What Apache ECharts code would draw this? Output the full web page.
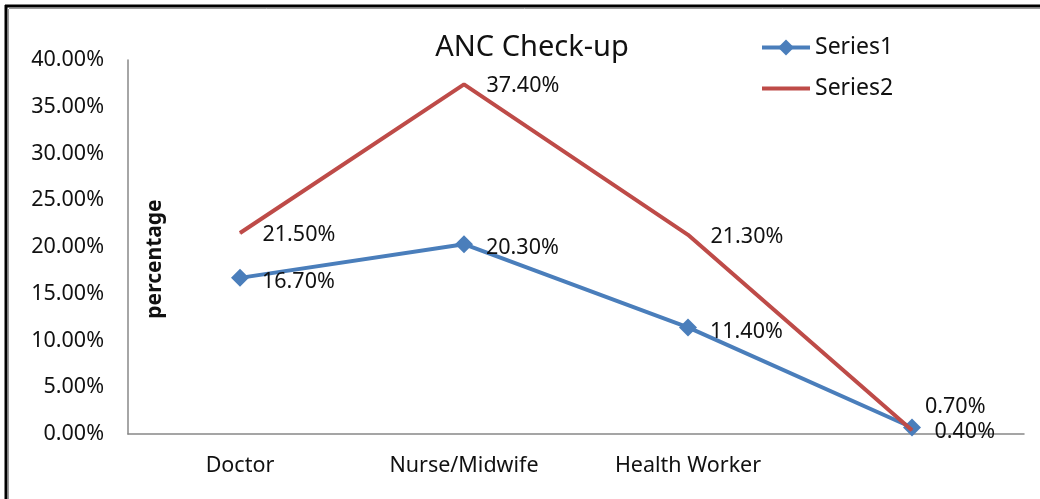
<!DOCTYPE html>
<html>
<head>
<meta charset="utf-8">
<script src="https://cdn.jsdelivr.net/npm/echarts@6/dist/echarts.min.js"></script>
<style>html,body{margin:0;padding:0;background:#fff}#c{width:1040px;height:499px}</style>
</head>
<body>
<div id="c"></div>
<script>
const categories = ['Doctor', 'Nurse/Midwife', 'Health Worker', ''];
const series1 = [16.7, 20.3, 11.4, 0.7];
const series2 = [21.5, 37.4, 21.3, 0.4];
const yTicks = [0, 5, 10, 15, 20, 25, 30, 35, 40];
const titleText = 'ANC Check-up';
const yName = 'percentage';

const font = '"Noto Sans", sans-serif';
const chart = echarts.init(document.getElementById('c'));
chart.setOption({
  animation: false,
  backgroundColor: '#fff',
  title: {
    text: titleText, left: 527, top: 28, textAlign: 'center',
    textStyle: {fontFamily: font, fontSize: 29, fontWeight: 'normal', color: '#111'}
  },
  legend: {
    orient: 'vertical', left: 755, top: 31, itemGap: 18, itemWidth: 48, itemHeight: 20,
    textStyle: {fontFamily: font, fontSize: 23, color: '#111'},
    data: [
      {name: 'Series1', lineStyle: {width: 4}},
      {name: 'Series2', icon: 'path://M0,0 L48,0 L48,4 L0,4 Z', itemStyle: {color: '#be4b48'}}
    ]
  },
  graphic: [
    {type: 'line', shape: {x1: 5, y1: 6, x2: 1040, y2: 6}, style: {stroke: '#000', lineWidth: 3}},
    {type: 'line', shape: {x1: 6, y1: 5, x2: 6, y2: 499}, style: {stroke: '#000', lineWidth: 3}},
    {type: 'line', shape: {x1: 9, y1: 8.5, x2: 1040, y2: 8.5}, style: {stroke: '#999', lineWidth: 1}},
    {type: 'line', shape: {x1: 8.5, y1: 9, x2: 8.5, y2: 499}, style: {stroke: '#999', lineWidth: 1}},
    {type: 'text', x: 155, y: 259, rotation: Math.PI / 2,
     style: {text: yName, font: 'bold 21px "Noto Sans", sans-serif', fill: '#111', textAlign: 'center', textVerticalAlign: 'middle'}}
  ],
  grid: {left: 128, right: 16, top: 60, bottom: 65},
  xAxis: {
    type: 'category', data: categories, boundaryGap: true,
    axisLine: {lineStyle: {color: '#888', width: 1.5}},
    axisTick: {show: false},
    axisLabel: {fontFamily: font, fontSize: 21.5, color: '#111', margin: 21}
  },
  yAxis: {
    type: 'value', min: yTicks[0], max: yTicks[yTicks.length - 1], interval: 5,
    axisLine: {show: true, lineStyle: {color: '#888', width: 1.5}},
    axisTick: {show: false},
    splitLine: {show: false},
    axisLabel: {fontFamily: font, fontSize: 21.5, color: '#111', margin: 24,
      formatter: v => v.toFixed(2) + '%'}
  },
  series: [
    {
      name: 'Series1', type: 'line', data: series1.map((v, i) => i === 3 ? {value: v, label: {offset: [-9, -21]}} : v),
      symbol: 'diamond', symbolSize: 18, z: 2,
      lineStyle: {color: '#4a7ebb', width: 4},
      itemStyle: {color: '#4a7ebb'},
      label: {show: true, position: 'right', distance: 13, offset: [0, 4],
        fontFamily: font, fontSize: 21.5, color: '#111',
        formatter: p => p.value.toFixed(2) + '%'}
    },
    {
      name: 'Series2', type: 'line', data: series2,
      symbol: 'circle', symbolSize: 1, z: 3,
      lineStyle: {color: '#be4b48', width: 4},
      itemStyle: {color: '#be4b48'},
      label: {show: true, position: 'right', distance: 22, offset: [0, 2],
        fontFamily: font, fontSize: 21.5, color: '#111',
        formatter: p => p.value.toFixed(2) + '%'}
    }
  ]
});
</script>
</body>
</html>
